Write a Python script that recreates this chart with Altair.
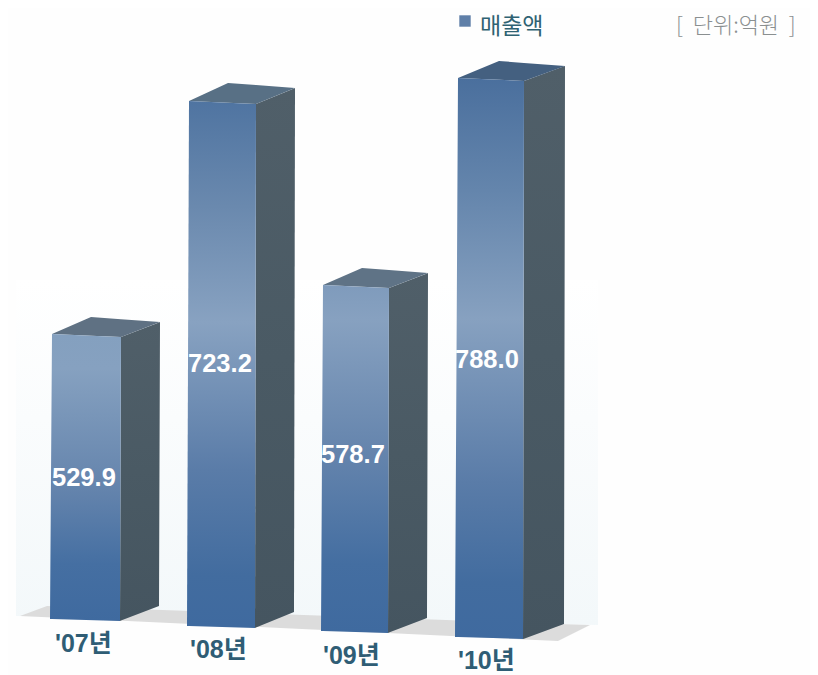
import altair as alt
import pandas as pd

# ---- values
categories = ["'07년", "'08년", "'09년", "'10년"]
sales = [529.9, 723.2, 578.7, 788.0]
legend_label = "매출액"
unit_label = "[\u00a0\u00a0단위:억원\u00a0\u00a0]"

# ---- drawn geometry of the scanned 3D bars, in picture units
base_left = [50, 187, 321, 455]
base_y = [619, 626, 631, 637]
top_y = [334, 101, 285, 78]
front_w = [70, 68, 67, 68]
top_lean = [2, 2, 2, 3]
depth_x = [39, 39, 39, 41]
depth_y = [-15, -16, -15, -15]
skew_y = [2, 2, 2, 2]
label_x = [52, 188, 321, 455]
label_y = [478, 364, 455, 360]
cat_x = [55, 190, 323, 458]
cat_y = [644, 650, 656, 661]

floor_poly = [(20, 616), (47, 606), (590, 625), (558, 641)]
wall_poly = [(16, 616), (16, 280), (598, 280), (598, 625)]


def area_rows(poly, group):
    """Turn a convex polygon into upper/lower bounds for an area mark."""
    n = len(poly)
    xs = sorted({p[0] for p in poly})
    rows = []
    for x in xs:
        hits = []
        for i in range(n):
            (x0, y0), (x1, y1) = poly[i], poly[(i + 1) % n]
            if min(x0, x1) <= x <= max(x0, x1):
                if x0 == x1:
                    hits += [y0, y1]
                else:
                    hits.append(y0 + (y1 - y0) * (x - x0) / (x1 - x0))
        rows.append({"g": group, "x": x, "y": min(hits), "y2": max(hits)})
    return pd.DataFrame(rows)


X = alt.Scale(domain=[8, 810], nice=False, zero=False)
Y = alt.Scale(domain=[675, 8], nice=False, zero=False)


def face(poly, fill, group="a"):
    return alt.Chart(area_rows(poly, group)).mark_area(fill=fill, interpolate="linear", stroke=None).encode(
        x=alt.X("x:Q", scale=X, axis=None),
        y=alt.Y("y:Q", scale=Y, axis=None),
        y2="y2:Q",
    )


def grad(stops, vertical=True):
    return alt.Gradient(
        gradient="linear",
        x1=0, y1=0,
        x2=0 if vertical else 1,
        y2=1 if vertical else 0,
        stops=[alt.GradientStop(offset=o, color=c) for o, c in stops],
    )


front_grads = [
    [(0, "#84a0bf"), (0.12, "#86a1c0"), (0.55, "#6383ac"), (0.8, "#456fa2"), (1, "#3f6a9f")],
    [(0, "#4f74a1"), (0.2, "#6a89ae"), (0.42, "#88a2c1"), (0.7, "#5a7ca8"), (0.9, "#426c9f"), (1, "#3f6a9f")],
    [(0, "#7f9bbc"), (0.1, "#87a1c0"), (0.5, "#6383ac"), (0.8, "#446ea1"), (1, "#3f6a9f")],
    [(0, "#4a6f9d"), (0.2, "#6485ac"), (0.43, "#87a1c0"), (0.72, "#5a7ca8"), (0.9, "#426c9f"), (1, "#3f6a9f")],
]
top_fills = ["#5f7183", "#587085", "#5f7386", "#446080"]

layers = [
    face(wall_poly, grad([(0, "#ffffff"), (0.4, "#fafcfd"), (1, "#f3f8fa")])),
    face(floor_poly, "#dcdcdc"),
]

for i in range(len(categories)):
    L, B, T, W = base_left[i], base_y[i], top_y[i], front_w[i]
    lean, dx, dy, sk = top_lean[i], depth_x[i], depth_y[i], skew_y[i]
    tl = (L + lean, T)
    tr = (L + W + 1, T + sk + 1)
    br = (L + W, B + sk)
    bl = (L, B)
    tbr = (tr[0] + dx, tr[1] + dy)
    bbr = (br[0] + dx, br[1] + dy)
    tbl = (tl[0] + dx, tl[1] + dy - 2)
    layers.append(face([tr, tbr, bbr, br], grad([(0, "#505f69"), (0.5, "#4a5a64"), (1, "#455560")])))
    layers.append(face([tl, tbl, tbr, tr], top_fills[i]))
    layers.append(face([tl, tr, br, bl], grad(front_grads[i])))

bar_labels = pd.DataFrame({"x": label_x, "y": label_y, "t": [f"{v:.1f}" for v in sales]})
layers.append(alt.Chart(bar_labels).mark_text(
    align="left", baseline="middle", font="Liberation Sans", fontWeight="bold", fontSize=25.5, color="#ffffff"
).encode(x=alt.X("x:Q", scale=X, axis=None), y=alt.Y("y:Q", scale=Y, axis=None), text="t:N"))

cat_labels = pd.DataFrame({"x": cat_x, "y": cat_y, "t": categories})
layers.append(alt.Chart(cat_labels).mark_text(
    align="left", baseline="middle", font="Liberation Sans, Noto Sans CJK KR", fontWeight="bold",
    fontSize=25, color="#2f5d75"
).encode(x=alt.X("x:Q", scale=X, axis=None), y=alt.Y("y:Q", scale=Y, axis=None), text="t:N"))

legend_mark = pd.DataFrame({"x": [465], "y": [21]})
layers.append(alt.Chart(legend_mark).mark_square(size=130, color="#5f7fa8", opacity=1).encode(
    x=alt.X("x:Q", scale=X, axis=None), y=alt.Y("y:Q", scale=Y, axis=None)))

legend_text = pd.DataFrame({"x": [480], "y": [27], "t": [legend_label]})
layers.append(alt.Chart(legend_text).mark_text(
    align="left", baseline="middle", font="Noto Sans CJK KR", fontSize=23, color="#2f6272"
).encode(x=alt.X("x:Q", scale=X, axis=None), y=alt.Y("y:Q", scale=Y, axis=None), text="t:N"))

unit_text = pd.DataFrame({"x": [676], "y": [26], "t": [unit_label]})
layers.append(alt.Chart(unit_text).mark_text(
    align="left", baseline="middle", font="Noto Sans CJK KR", fontWeight=300, fontSize=22, color="#8a8f90"
).encode(x=alt.X("x:Q", scale=X, axis=None), y=alt.Y("y:Q", scale=Y, axis=None), text="t:N"))

chart = alt.layer(*layers).properties(
    width=802, height=667, padding=0, background="#fefefe",
    autosize=alt.AutoSizeParams(type="none")
).configure_view(stroke=None)

chart.save("out.html", embed_options={"renderer": "svg", "actions": False})
